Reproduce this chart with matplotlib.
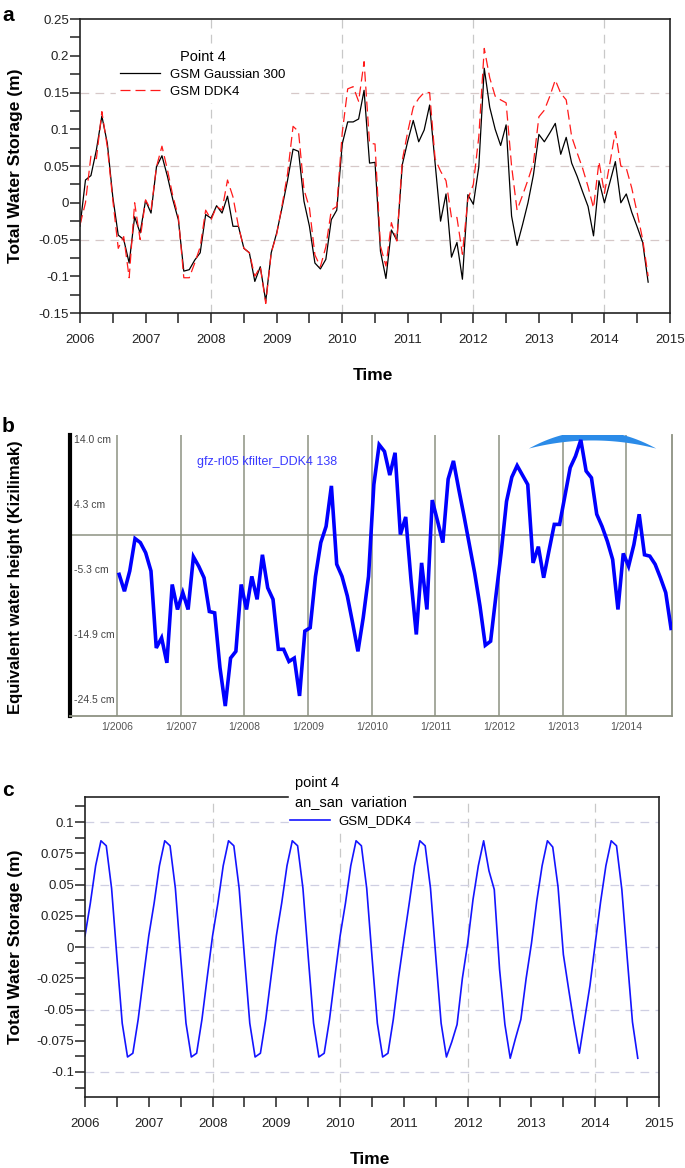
import numpy as np
import matplotlib.pyplot as plt
from matplotlib.ticker import MultipleLocator, FuncFormatter

plt.rcParams['font.family'] = ['Liberation Sans', 'DejaVu Sans']

# --- DATA -----------------------------------------------------------------
# (a) total water storage (m), monthly Jan 2006 .. Sep 2014
tws_gauss300 = [
    -0.032, 0.031, 0.037, 0.072, 0.118, 0.081, 0.008, -0.044, -0.050, -0.082, -0.019, -0.041,
    0.003, -0.014, 0.049, 0.064, 0.036, 0.004, -0.023, -0.093, -0.091, -0.078, -0.068, -0.016,
    -0.021, -0.004, -0.014, 0.009, -0.032, -0.032, -0.062, -0.068, -0.107, -0.087, -0.134, -0.068,
    -0.041, -0.006, 0.031, 0.073, 0.070, 0.002, -0.032, -0.082, -0.090, -0.077, -0.023, -0.010,
    0.080, 0.110, 0.110, 0.114, 0.153, 0.054, 0.055, -0.066, -0.103, -0.037, -0.051, 0.052,
    0.084, 0.112, 0.083, 0.099, 0.133, 0.054, -0.025, 0.012, -0.074, -0.054, -0.104, 0.011,
    -0.002, 0.049, 0.183, 0.130, 0.100, 0.078, 0.106, -0.018, -0.058, -0.030, 0.000, 0.038,
    0.093, 0.083, 0.095, 0.108, 0.066, 0.089, 0.054, 0.036, 0.015, -0.005, -0.045, 0.030,
    0.000, 0.028, 0.056, 0.000, 0.012, -0.013, -0.033, -0.054, -0.108,
]
tws_ddk4 = [
    -0.030, 0.000, 0.064, 0.060, 0.124, 0.076, 0.004, -0.062, -0.046, -0.102, 0.000, -0.050,
    0.004, -0.010, 0.049, 0.077, 0.045, 0.009, -0.019, -0.102, -0.102, -0.082, -0.060, -0.010,
    -0.023, -0.005, -0.010, 0.031, 0.008, -0.032, -0.062, -0.068, -0.100, -0.087, -0.137, -0.068,
    -0.043, -0.003, 0.040, 0.104, 0.097, 0.018, -0.007, -0.071, -0.087, -0.060, -0.010, -0.005,
    0.095, 0.155, 0.158, 0.138, 0.192, 0.081, 0.080, -0.059, -0.086, -0.027, -0.052, 0.058,
    0.097, 0.130, 0.142, 0.150, 0.150, 0.060, 0.043, 0.030, -0.020, -0.020, -0.070, 0.005,
    0.025, 0.090, 0.210, 0.170, 0.145, 0.140, 0.136, 0.050, -0.010, 0.010, 0.031, 0.054,
    0.117, 0.126, 0.145, 0.167, 0.149, 0.140, 0.090, 0.068, 0.047, 0.022, -0.007, 0.056,
    0.013, 0.054, 0.097, 0.050, 0.047, 0.020, -0.014, -0.050, -0.100,
]

# (b) equivalent water height (cm), gfz-rl05 kfilter_DDK4, mid-month values
ewh_cm = [
    -5.9, -8.4, -5.4, -0.6, -1.2, -2.7, -5.4, -16.8, -15.3, -19.0, -7.4, -11.1,
    -8.6, -11.1, -3.3, -4.7, -6.4, -11.4, -11.6, -19.7, -25.4, -18.3, -17.3, -7.4,
    -11.1, -6.2, -9.6, -3.0, -7.9, -9.6, -17.0, -17.0, -18.8, -18.3, -23.9, -14.3,
    -13.8, -6.2, -1.2, 1.2, 7.2, -4.4, -6.2, -9.1, -13.1, -17.3, -12.3, -6.2,
    7.4, 13.3, 12.3, 8.8, 12.1, 0.0, 2.6, -6.7, -14.8, -4.2, -11.1, 5.1,
    2.0, -1.2, 8.2, 10.9, 6.7, 2.7, -1.5, -5.7, -10.6, -16.4, -15.8, -9.1,
    -2.6, 4.9, 8.5, 10.2, 8.8, 7.4, -4.2, -1.8, -6.4, -2.4, 1.5, 1.5,
    5.7, 9.9, 11.6, 14.0, 9.4, 8.4, 3.0, 1.2, -1.0, -3.7, -11.1, -2.8,
    -4.7, -1.5, 3.0, -3.0, -3.2, -4.4, -6.4, -8.6, -13.9,
]
ewh_ticks = [14.0, 4.3, -5.3, -14.9, -24.5]
ewh_ticklabels = ['14.0 cm', '4.3 cm', '-5.3 cm', '-14.9 cm', '-24.5 cm']

# (c) annual + semi-annual variation (m), GSM_DDK4
an_san = [
    0.009, 0.035, 0.065, 0.085, 0.081, 0.047, -0.008, -0.061, -0.088, -0.085, -0.058, -0.024,
    0.009, 0.035, 0.065, 0.085, 0.081, 0.047, -0.008, -0.061, -0.088, -0.085, -0.058, -0.024,
    0.009, 0.035, 0.065, 0.085, 0.081, 0.047, -0.008, -0.061, -0.088, -0.085, -0.058, -0.024,
    0.009, 0.035, 0.065, 0.085, 0.081, 0.047, -0.008, -0.061, -0.088, -0.085, -0.058, -0.024,
    0.009, 0.035, 0.065, 0.085, 0.081, 0.047, -0.008, -0.061, -0.088, -0.085, -0.058, -0.024,
    0.006, 0.035, 0.065, 0.085, 0.081, 0.047, -0.008, -0.061, -0.088, -0.076, -0.062, -0.025,
    0.003, 0.038, 0.065, 0.085, 0.061, 0.046, -0.018, -0.062, -0.089, -0.073, -0.058, -0.025,
    0.003, 0.037, 0.065, 0.085, 0.080, 0.048, -0.006, -0.034, -0.061, -0.085, -0.058, -0.031,
    0.003, 0.036, 0.065, 0.085, 0.081, 0.046, -0.008, -0.060, -0.089,
]

year_grid = [2008, 2010, 2012, 2014]
b_years = list(range(2006, 2015))

t_a = 2006 + np.arange(len(tws_gauss300)) / 12
t_b = 2006 + (np.arange(len(ewh_cm)) + 0.4) / 12
t_c = 2006 + np.arange(len(an_san)) / 12


def fmt(v, pos):
    return '%g' % (round(v, 4) + 0.0)


def style_axes(ax, ymaj, ymin):
    ax.set_xlim(2006, 2015)
    ax.xaxis.set_major_locator(MultipleLocator(1))
    ax.xaxis.set_minor_locator(MultipleLocator(0.5))
    ax.yaxis.set_major_locator(MultipleLocator(ymaj))
    ax.yaxis.set_minor_locator(MultipleLocator(ymin))
    ax.yaxis.set_major_formatter(FuncFormatter(fmt))
    ax.tick_params(which='both', direction='out', length=7, width=1.1,
                   top=False, right=False, labelsize=9.5, colors='#222222')
    ax.tick_params(axis='y', pad=1)
    ax.tick_params(axis='x', pad=8)
    for s in ax.spines.values():
        s.set_linewidth(1.2)
        s.set_color('#222222')
    for yr in year_grid:
        ax.axvline(yr, color='#c8c8c8', lw=0.9, dashes=(7, 5), zorder=0)


fig = plt.figure(figsize=(6.85, 11.68), dpi=100)

# --- (a) -------------------------------------------------------------------
ax1 = fig.add_axes([0.1168, 0.7320, 0.8613, 0.2517])
style_axes(ax1, 0.05, 0.025)
ax1.set_ylim(-0.15, 0.25)
for yv in [-0.05, 0.05, 0.15]:
    ax1.axhline(yv, color='#d6c8c8', lw=0.9, dashes=(7, 5), zorder=0)
ax1.plot(t_a, tws_gauss300, color='black', lw=0.9, label='GSM Gaussian 300')
ax1.plot(t_a, tws_ddk4, color='#ff1a1a', lw=0.9, dashes=(8, 4), label='GSM DDK4')
leg = ax1.legend(title='Point 4', loc='upper left', bbox_to_anchor=(0.05, 0.93),
                 fontsize=9.5, title_fontsize=10.5, frameon=True, fancybox=False,
                 handlelength=3.0, handletextpad=0.8, labelspacing=0.35, borderpad=0.3)
leg.get_frame().set_edgecolor('white')
leg.get_frame().set_alpha(1)
fig.text(0.545, 1 - 376 / 1168, 'Time', ha='center', va='center', fontsize=12.5, fontweight='bold')
fig.text(0.022, 1 - 166 / 1168, 'Total Water Storage (m)', rotation=90, ha='center',
         va='center', fontsize=12.5, fontweight='bold')
fig.text(0.003, 0.995, 'a', ha='left', va='top', fontsize=15, fontweight='bold')

# --- (b) -------------------------------------------------------------------
ax2 = fig.add_axes([0.1022, 0.3870, 0.8788, 0.2406])
ax2.set_xlim(2005.262, 2014.715)
ax2.set_ylim(-26.87, 14.74)
ax2.spines['top'].set_visible(False)
ax2.spines['left'].set_linewidth(3.0)
ax2.spines['left'].set_color('black')
for side in ['bottom', 'right']:
    ax2.spines[side].set_color('#8d9282')
    ax2.spines[side].set_linewidth(1.3)
for yr in b_years:
    ax2.axvline(yr, color='#8d9282', lw=1.1, zorder=1)
ax2.axhline(0, color='#8d9282', lw=1.1, zorder=1)
ax2.plot(t_b, ewh_cm, color='#0000ff', lw=2.6, zorder=3, solid_joinstyle='miter')
# crescent-shaped marker at the top of the screenshot panel
u = np.linspace(-1, 1, 60)
xc = 2013.46 + 1.0 * u
ax2.fill_between(xc, 12.8 + 1.2 * (1 - u ** 2), 12.8 + 2.6 * (1 - u ** 2),
                 color='#2b8be8', lw=0, zorder=2)
ax2.set_yticks([])
ax2.set_xticks(b_years)
ax2.set_xticklabels(['1/%d' % y for y in b_years])
ax2.tick_params(axis='x', length=0, pad=4, labelsize=7.5, labelcolor='#555555')
for yv, lab in zip(ewh_ticks, ewh_ticklabels):
    ax2.text(0.006, yv, lab, transform=ax2.get_yaxis_transform(), ha='left',
             va='center', fontsize=7.5, color='#444444')
ax2.text(0.211, 0.904, 'gfz-rl05 kfilter_DDK4 138', transform=ax2.transAxes,
         ha='left', va='center', fontsize=9, color='#3a3aff')
fig.text(0.022, 1 - 577 / 1168, 'Equivalent water height (Kizilimak)', rotation=90,
         ha='center', va='center', fontsize=12, fontweight='bold')
fig.text(0.003, 1 - 417 / 1168, 'b', ha='left', va='top', fontsize=15, fontweight='bold')

# --- (c) -------------------------------------------------------------------
ax3 = fig.add_axes([0.1241, 0.0608, 0.8380, 0.2568])
style_axes(ax3, 0.025, 0.0125)
ax3.set_ylim(-0.12, 0.12)
for yv in [-0.1, -0.05, 0, 0.05, 0.1]:
    ax3.axhline(yv, color='#cfcfe2', lw=0.9, dashes=(7, 5), zorder=0)
ax3.plot(t_c, an_san, color='#1414ff', lw=1.2, label='GSM_DDK4')
leg3 = ax3.legend(title='point 4\nan_san  variation', loc='upper center',
                  bbox_to_anchor=(0.463, 1.076), fontsize=9.5, title_fontsize=10.5,
                  frameon=True, fancybox=False, handlelength=3.0, handletextpad=0.6,
                  borderpad=0.1, borderaxespad=0)
leg3.get_title().set_linespacing(1.45)
leg3.get_frame().set_edgecolor('white')
leg3.get_frame().set_alpha(1)
fig.text(0.54, 1 - 1160 / 1168, 'Time', ha='center', va='center', fontsize=12.5, fontweight='bold')
fig.text(0.022, 1 - 947 / 1168, 'Total Water Storage (m)', rotation=90, ha='center',
         va='center', fontsize=12.5, fontweight='bold')
fig.text(0.003, 1 - 781 / 1168, 'c', ha='left', va='top', fontsize=15, fontweight='bold')

fig.savefig('out.png', dpi=100)
